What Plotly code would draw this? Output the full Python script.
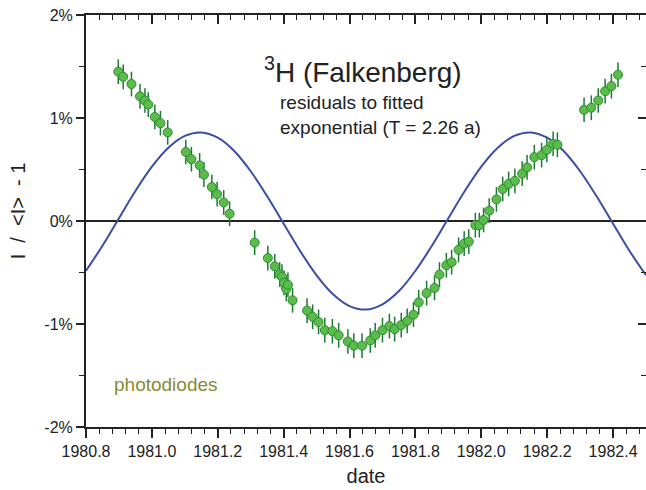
import plotly.graph_objects as go

# ---- data ----
dates = [1980.898, 1980.913, 1980.938, 1980.964, 1980.979, 1980.989, 1981.009, 1981.026,
         1981.048, 1981.103, 1981.120, 1981.145, 1981.158, 1981.182, 1981.198, 1981.218,
         1981.236, 1981.312, 1981.352, 1981.373, 1981.388, 1981.395, 1981.401, 1981.408,
         1981.413, 1981.427, 1981.471, 1981.488, 1981.506, 1981.525, 1981.548, 1981.567,
         1981.595, 1981.613, 1981.638, 1981.663, 1981.678, 1981.700, 1981.721, 1981.737,
         1981.757, 1981.775, 1981.794, 1981.810, 1981.834, 1981.858, 1981.873, 1981.894,
         1981.910, 1981.931, 1981.948, 1981.962, 1981.982, 1981.994, 1982.007, 1982.024,
         1982.046, 1982.065, 1982.083, 1982.102, 1982.124, 1982.139, 1982.161, 1982.183,
         1982.199, 1982.218, 1982.231, 1982.312, 1982.334, 1982.355, 1982.376, 1982.395,
         1982.415]
residuals = [1.45, 1.40, 1.33, 1.21, 1.17, 1.13, 1.01, 0.95,
             0.86, 0.67, 0.60, 0.54, 0.45, 0.33, 0.26, 0.18,
             0.07, -0.21, -0.36, -0.44, -0.52, -0.54, -0.60, -0.66,
             -0.62, -0.77, -0.87, -0.93, -0.98, -1.06, -1.07, -1.11,
             -1.17, -1.21, -1.21, -1.16, -1.11, -1.06, -1.02, -1.05,
             -1.01, -0.97, -0.91, -0.79, -0.70, -0.65, -0.52, -0.43,
             -0.40, -0.28, -0.22, -0.20, -0.04, -0.04, 0.01, 0.10,
             0.21, 0.31, 0.36, 0.39, 0.46, 0.52, 0.62, 0.64,
             0.69, 0.75, 0.74, 1.08, 1.10, 1.17, 1.26, 1.31,
             1.42]
error = 0.12

curve_dates = [1980.80, 1980.85, 1980.90, 1980.95, 1981.00, 1981.05, 1981.10, 1981.15,
               1981.20, 1981.25, 1981.30, 1981.35, 1981.40, 1981.45, 1981.50, 1981.55,
               1981.60, 1981.65, 1981.70, 1981.75, 1981.80, 1981.85, 1981.90, 1981.95,
               1982.00, 1982.05, 1982.10, 1982.15, 1982.20, 1982.25, 1982.30, 1982.35,
               1982.40, 1982.45, 1982.50]
curve_values = [-0.483, -0.240, 0.027, 0.291, 0.527, 0.711, 0.826, 0.860,
                0.809, 0.680, 0.483, 0.240, -0.027, -0.291, -0.527, -0.711,
                -0.826, -0.860, -0.809, -0.680, -0.483, -0.240, 0.027, 0.291,
                0.527, 0.711, 0.826, 0.860, 0.809, 0.680, 0.483, 0.240,
                -0.027, -0.291, -0.527]

x_ticks = [1980.8, 1981.0, 1981.2, 1981.4, 1981.6, 1981.8, 1982.0, 1982.2, 1982.4]
x_ticktext = ["1980.8", "1981.0", "1981.2", "1981.4", "1981.6", "1981.8", "1982.0", "1982.2", "1982.4"]
y_ticks = [-2, -1, 0, 1, 2]
y_ticktext = ["-2%", "-1%", "0%", "1%", "2%"]

FONT = "Liberation Sans, Arial, sans-serif"
XR = [1980.8, 1982.5]
YR = [-2, 2]

fig = go.Figure()
fig.add_trace(go.Scatter(x=curve_dates, y=curve_values, mode="lines",
                         line=dict(color="#3a4ea3", width=2, shape="spline"),
                         showlegend=False, hoverinfo="skip"))
fig.add_trace(go.Scatter(x=dates, y=residuals, mode="markers",
                         marker=dict(size=9, color="#5abd4a", line=dict(color="#2f8a35", width=1)),
                         error_y=dict(type="constant", value=error, color="#1c7a30",
                                      thickness=1.5, width=0),
                         showlegend=False))
# invisible trace for the mirror axes
fig.add_trace(go.Scatter(x=[None], y=[None], xaxis="x2", yaxis="y2", showlegend=False))

fig.update_layout(
    width=646, height=490,
    margin=dict(l=86, r=0, t=15, b=63),
    paper_bgcolor="white", plot_bgcolor="white",
    font=dict(family=FONT, size=16, color="#222"),
    xaxis=dict(range=XR, tickvals=x_ticks, ticktext=x_ticktext,
               ticks="outside", ticklen=9, tickwidth=1.5, tickcolor="#222",
               showline=True, linecolor="#222", linewidth=2, showgrid=False, zeroline=False,
               minor=dict(ticks="outside", dtick=0.04, tick0=1980.8, ticklen=5,
                          tickwidth=1.2, tickcolor="#222", showgrid=False),
               title=dict(text="date", font=dict(size=20), standoff=10),
               tickfont=dict(size=16)),
    yaxis=dict(range=YR, tickvals=y_ticks, ticktext=y_ticktext,
               ticks="outside", ticklen=8, tickwidth=1.5, tickcolor="#222",
               showline=True, linecolor="#222", linewidth=2, showgrid=False,
               zeroline=True, zerolinecolor="#222", zerolinewidth=2,
               minor=dict(ticks="outside", dtick=0.5, tick0=-2, ticklen=5,
                          tickwidth=1.2, tickcolor="#222", showgrid=False),
               tickfont=dict(size=16)),
    xaxis2=dict(range=XR, overlaying="x", side="top", tickvals=x_ticks,
                showticklabels=False, ticks="inside", ticklen=9, tickwidth=1.5,
                tickcolor="#222", showline=True, linecolor="#222", linewidth=2,
                showgrid=False, zeroline=False,
                minor=dict(ticks="inside", dtick=0.04, tick0=1980.8, ticklen=5,
                           tickwidth=1.2, tickcolor="#222", showgrid=False)),
    yaxis2=dict(range=YR, overlaying="y", side="right", tickvals=y_ticks,
                showticklabels=False, ticks="inside", ticklen=8, tickwidth=1.5,
                tickcolor="#222", showline=False,
                showgrid=False, zeroline=False,
                minor=dict(ticks="inside", dtick=0.5, tick0=-2, ticklen=5,
                           tickwidth=1.2, tickcolor="#222", showgrid=False)),
)

# y-axis title
fig.add_annotation(xref="paper", yref="paper", x=-0.121, y=0.524, xanchor="center", yanchor="middle",
                   text="I&nbsp; /&nbsp; &lt;I&gt;&nbsp; - 1", textangle=-90, showarrow=False,
                   font=dict(family=FONT, size=20, color="#222"))
fig.add_annotation(xref="paper", yref="paper", x=0.314, y=0.867, xanchor="left", yanchor="middle",
                   text="<sup>3</sup>H (Falkenberg)", showarrow=False,
                   font=dict(family=FONT, size=28, color="#222"))
fig.add_annotation(xref="paper", yref="paper", x=0.343, y=0.758, xanchor="left", yanchor="middle",
                   text="residuals to fitted<br>exponential (T = 2.26 a)", showarrow=False, align="left",
                   font=dict(family=FONT, size=19, color="#222"))
fig.add_annotation(xref="paper", yref="paper", x=0.046, y=0.102, xanchor="left", yanchor="middle",
                   text="photodiodes", showarrow=False,
                   font=dict(family=FONT, size=19, color="#878a33"))

fig.write_html("out.html")
